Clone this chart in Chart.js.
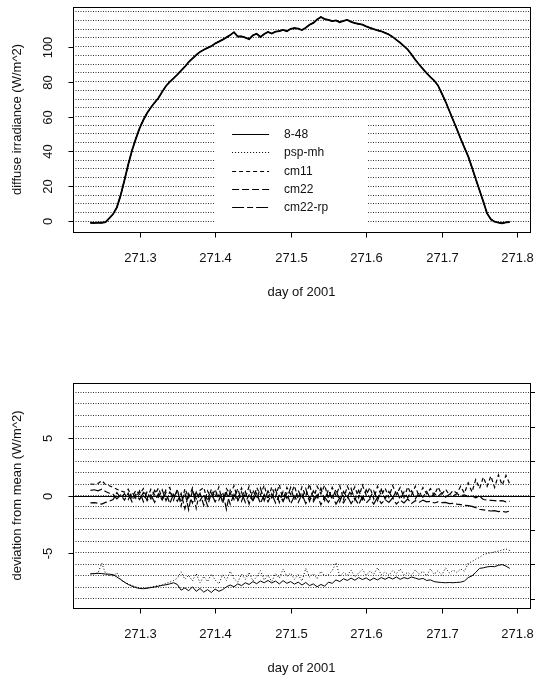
<!DOCTYPE html>
<html>
<head>
<meta charset="utf-8">
<script src="https://cdn.jsdelivr.net/npm/chart.js@4/dist/chart.umd.min.js"></script>
<style>
  html, body { margin: 0; padding: 0; background: #fff; }
  .panel { position: absolute; left: 0; }
</style>
</head>
<body>
<div class="panel" style="top:0"><canvas id="irrChart" width="535" height="338"></canvas></div>
<div class="panel" style="top:338px"><canvas id="devChart" width="535" height="339"></canvas></div>
<script>
// day of 2001 (sampling grid)
const days = [
  271.235,271.240,271.245,271.250,271.255,271.260,271.265,271.270,271.275,271.280,
  271.285,271.290,271.295,271.300,271.305,271.310,271.315,271.320,271.325,271.330,
  271.335,271.340,271.345,271.350,271.355,271.360,271.365,271.370,271.375,271.380,
  271.385,271.390,271.395,271.400,271.405,271.410,271.415,271.420,271.425,271.430,
  271.435,271.440,271.445,271.450,271.455,271.460,271.465,271.470,271.475,271.480,
  271.485,271.490,271.495,271.500,271.505,271.510,271.515,271.520,271.525,271.530,
  271.535,271.540,271.545,271.550,271.555,271.560,271.565,271.570,271.575,271.580,
  271.585,271.590,271.595,271.600,271.605,271.610,271.615,271.620,271.625,271.630,
  271.635,271.640,271.645,271.650,271.655,271.660,271.665,271.670,271.675,271.680,
  271.685,271.690,271.695,271.700,271.705,271.710,271.715,271.720,271.725,271.730,
  271.735,271.740,271.745,271.750,271.755,271.760,271.765,271.770,271.775,271.780,
  271.785,271.790
];

// diffuse irradiance (W/m^2) - the five instruments overlap in the top panel
const irradiance = [
  -0.8,-0.9,-0.7,-0.8,-0.4,1.8,4.2,8.0,15.0,23.5,
  32.5,40.5,47.2,53.2,58.0,62.0,65.2,68.0,70.6,74.2,
  77.5,79.8,81.9,84.0,86.3,88.5,91.2,93.2,95.2,97.0,
  98.2,99.3,100.3,101.8,102.9,104.0,105.3,106.6,108.3,105.8,
  105.9,105.2,104.3,106.5,107.4,105.5,107.2,108.4,107.5,108.6,
  108.9,109.6,108.8,110.2,110.6,110.3,109.5,110.8,112.5,113.6,
  115.5,117.0,115.8,115.3,114.6,115.0,114.0,114.8,115.3,114.2,
  113.5,113.0,112.6,111.6,110.8,110.0,109.3,108.8,107.9,107.0,
  105.6,103.9,102.2,100.3,98.3,95.5,92.5,89.8,87.3,84.8,
  82.6,80.6,77.8,73.2,68.6,63.3,58.0,52.8,47.3,42.2,
  37.2,30.8,24.2,17.8,11.3,4.5,1.2,-0.2,-0.7,-1.1,
  -0.6,-0.4
];

// deviation from mean (W/m^2)
const dev848 = [
  -6.82,-6.80,-6.78,-6.80,-6.85,-6.85,-6.90,-7.10,-7.32,-7.55,
  -7.75,-7.90,-8.02,-8.10,-8.12,-8.08,-8.02,-7.97,-7.90,-7.82,
  -7.78,-7.70,-7.60,-7.75,-8.25,-8.05,-8.30,-7.95,-8.35,-8.10,
  -8.42,-8.20,-8.45,-8.15,-8.35,-8.20,-7.95,-7.80,-7.95,-7.70,
  -7.85,-7.60,-7.75,-7.50,-7.68,-7.45,-7.60,-7.40,-7.62,-7.45,
  -7.70,-7.42,-7.65,-7.50,-7.72,-7.55,-7.80,-7.58,-7.85,-7.70,
  -7.95,-7.75,-7.90,-7.55,-7.65,-7.35,-7.50,-7.25,-7.40,-7.20,
  -7.38,-7.15,-7.32,-7.18,-7.40,-7.20,-7.35,-7.15,-7.30,-7.12,
  -7.28,-7.10,-7.30,-7.15,-7.25,-7.10,-7.20,-7.30,-7.22,-7.40,
  -7.35,-7.50,-7.55,-7.58,-7.60,-7.58,-7.60,-7.57,-7.55,-7.45,
  -7.15,-7.00,-6.70,-6.35,-6.30,-6.22,-6.18,-6.20,-6.08,-6.02,
  -6.15,-6.35
];
const devPspMh = [
  -6.85,-6.82,-6.75,-5.90,-6.80,-6.95,-7.00,-6.75,-7.35,-7.55,
  -7.70,-7.85,-7.95,-8.05,-8.10,-8.05,-7.98,-7.90,-7.85,-7.80,
  -7.65,-7.55,-7.40,-7.20,-6.65,-7.30,-6.95,-7.45,-6.80,-7.60,
  -7.05,-7.50,-6.85,-7.35,-7.70,-6.90,-7.40,-6.60,-7.25,-7.55,
  -6.85,-7.30,-6.70,-7.45,-7.10,-6.55,-7.35,-6.95,-7.50,-6.80,
  -7.20,-6.40,-7.05,-6.75,-7.30,-6.90,-7.45,-6.35,-7.10,-6.80,
  -7.25,-6.60,-7.00,-6.90,-6.55,-5.85,-7.05,-6.70,-6.95,-6.50,
  -7.10,-6.75,-6.45,-6.95,-6.60,-6.85,-6.30,-6.90,-6.65,-6.95,
  -6.55,-6.80,-6.40,-6.90,-6.70,-6.95,-6.50,-6.85,-6.60,-7.00,
  -6.40,-6.85,-6.55,-6.95,-6.30,-6.75,-6.50,-6.70,-6.40,-6.60,
  -5.90,-5.75,-5.55,-5.40,-5.15,-5.05,-5.00,-4.90,-4.85,-4.75,
  -4.65,-4.80
];
const devCm11 = [
  1.00,0.98,1.05,1.30,0.95,0.85,0.70,0.55,0.40,0.30,
  0.55,-0.20,0.45,0.10,0.60,-0.30,0.55,0.05,0.65,-0.25,
  0.50,0.70,-0.40,0.55,-0.90,0.60,-0.20,0.65,-1.10,0.45,
  0.70,-0.50,0.55,-0.15,0.75,-0.70,0.60,0.10,0.85,-0.40,
  0.65,-0.20,0.80,-0.55,0.70,0.05,0.90,-0.35,0.75,-0.10,
  0.95,-0.45,0.70,0.10,0.85,-0.30,0.75,-0.05,1.00,-0.40,
  0.80,0.15,0.90,-0.25,0.70,0.00,0.85,-0.35,0.80,0.10,
  0.75,-0.20,0.90,0.05,0.70,-0.30,0.80,0.00,0.65,-0.15,
  0.85,0.10,0.70,-0.20,0.75,0.05,0.80,-0.10,0.70,0.15,
  0.60,0.00,0.75,0.10,0.55,0.05,0.45,0.20,0.80,0.20,
  1.10,0.30,1.40,0.60,1.60,0.80,1.70,0.70,1.80,0.90,
  1.75,1.00
];
const devCm22 = [
  -0.65,-0.62,-0.68,-0.75,-0.60,-0.50,-0.35,0.25,-0.20,0.15,
  -0.35,0.30,-0.25,0.40,-0.55,0.35,-0.30,0.45,-0.15,0.50,
  -0.45,0.30,-0.20,0.40,-0.60,0.25,-1.25,0.45,-0.30,0.20,
  -0.85,0.40,-0.25,0.55,-0.40,0.30,-1.20,0.45,-0.35,0.60,
  -0.50,0.35,-0.75,0.50,-0.30,0.65,-0.45,0.40,-0.20,0.55,
  -0.60,0.35,-0.25,0.70,-0.40,0.45,-0.30,0.60,-0.50,0.40,
  -0.20,0.65,-0.45,0.50,-0.30,0.55,-0.55,0.35,-0.25,0.60,
  -0.40,0.45,-0.35,0.50,-0.20,0.40,-0.45,0.55,-0.30,0.35,
  -0.25,0.45,-0.35,0.30,-0.20,0.40,-0.30,0.25,-0.15,0.35,
  -0.25,0.20,-0.10,0.25,-0.15,0.10,-0.05,0.15,0.00,0.05,
  -0.10,-0.05,-0.20,-0.05,-0.35,-0.40,-0.42,-0.45,-0.48,-0.45,
  -0.55,-0.50
];
const devCm22rp = [
  0.45,0.50,0.40,0.55,0.35,0.20,0.10,-0.30,0.05,-0.40,
  0.20,-0.55,0.10,-0.35,0.25,-0.45,0.05,-0.60,0.15,-0.40,
  0.25,-0.70,0.10,-0.50,0.20,-1.15,0.15,-0.65,0.30,-0.45,
  0.10,-0.90,0.20,-0.55,0.05,-0.40,0.25,-0.75,0.10,-0.50,
  0.30,-0.60,0.05,-0.45,0.20,-0.70,0.10,-0.55,0.15,-0.65,
  0.00,-0.50,0.20,-0.75,-0.05,-0.60,0.10,-0.70,-0.10,-0.55,
  0.05,-0.80,-0.15,-0.60,0.00,-0.75,-0.20,-0.65,-0.05,-0.70,
  -0.25,-0.80,-0.10,-0.65,-0.30,-0.75,-0.15,-0.70,-0.35,-0.60,
  -0.20,-0.75,-0.40,-0.65,-0.30,-0.70,-0.45,-0.60,-0.40,-0.55,
  -0.50,-0.65,-0.55,-0.62,-0.60,-0.70,-0.68,-0.75,-0.80,-0.85,
  -0.88,-0.95,-1.05,-1.20,-1.25,-1.30,-1.35,-1.32,-1.40,-1.38,
  -1.45,-1.35
];

const instruments = ['8-48', 'psp-mh', 'cm11', 'cm22', 'cm22-rp'];
const deviations = [dev848, devPspMh, devCm11, devCm22, devCm22rp];

// tick labels
const xTicks = [271.3, 271.4, 271.5, 271.6, 271.7, 271.8];
const irrTicks = [0, 20, 40, 60, 80, 100];
const devTicks = [-5, 0, 5];
const devRightTicks = [-9, -6, -3, 0, 3, 6, 9];

// line types like R's lty 1..6
const DASHES = [[], [1, 2], [4, 3], [7, 3], [12, 3, 6, 3]];
const WIDTHS = [1.8, 1, 1, 1, 1];
const DEV_WIDTHS = [1, 1, 1.2, 1.2, 1.2];
const AXIS_FONT = '13px "Liberation Sans", Arial, Helvetica, sans-serif';
const LEGEND_FONT = '12px "Liberation Sans", Arial, Helvetica, sans-serif';
const INK = '#111';

function toPoints(values) {
    return days.map((d, i) => ({ x: d, y: values[i] }));
}

function hline(ctx, x1, x2, y) {
    ctx.beginPath();
    ctx.moveTo(x1, y);
    ctx.lineTo(x2, y);
    ctx.stroke();
}

// R-like frame: box, outward ticks, rotated y labels, titles, optional legend
function rFrame(opts) {
    return {
        id: 'rFrame',
        afterDatasetsDraw(chart) {
            const { ctx, chartArea: a, scales: { x, y } } = chart;
            const L = Math.round(a.left) + 0.5, R = Math.round(a.right) + 0.5;
            const T = Math.round(a.top) + 0.5, B = Math.round(a.bottom) + 0.5;
            ctx.save();
            ctx.strokeStyle = '#000';
            ctx.lineWidth = 1;
            ctx.setLineDash([]);

            if (opts.legend) {
                const lx = x.getPixelForValue(opts.legend.x);
                const ly = y.getPixelForValue(opts.legend.y);
                ctx.fillStyle = '#fff';
                ctx.fillRect(lx, ly, 152, 105);
                ctx.font = LEGEND_FONT;
                ctx.textBaseline = 'middle';
                ctx.textAlign = 'left';
                chart.data.datasets.forEach((ds, i) => {
                    const ry = Math.round(ly + 14 + i * 18.3) + 0.5;
                    ctx.strokeStyle = '#000';
                    ctx.lineWidth = 1;
                    ctx.setLineDash(ds.borderDash);
                    hline(ctx, lx + 17, lx + 54, ry);
                    ctx.setLineDash([]);
                    ctx.fillStyle = INK;
                    ctx.fillText(ds.label, lx + 69, ry);
                });
                ctx.strokeStyle = '#000';
            }

            if (opts.zeroLine) {
                hline(ctx, L, R + 5, Math.round(y.getPixelForValue(0)) + 0.5);
            }

            ctx.strokeRect(L, T, R - L, B - T);

            ctx.font = AXIS_FONT;
            ctx.fillStyle = INK;

            // left axis
            opts.yTicks.forEach(v => {
                const py = Math.round(y.getPixelForValue(v)) + 0.5;
                hline(ctx, L - 5, L, py);
                ctx.save();
                ctx.translate(48, py);
                ctx.rotate(-Math.PI / 2);
                ctx.textAlign = 'center';
                ctx.textBaseline = 'middle';
                ctx.fillText(String(v), 0, 0);
                ctx.restore();
            });

            // right axis ticks (labels fall outside the page)
            (opts.rightTicks || []).forEach(v => {
                const py = Math.round(y.getPixelForValue(v)) + 0.5;
                hline(ctx, R, R + 5, py);
            });

            // bottom axis
            ctx.textAlign = 'center';
            ctx.textBaseline = 'middle';
            xTicks.forEach(v => {
                const px = Math.round(x.getPixelForValue(v)) + 0.5;
                ctx.beginPath();
                ctx.moveTo(px, B);
                ctx.lineTo(px, B + 5);
                ctx.stroke();
                ctx.fillText(v.toFixed(1), px, B + 26);
            });

            ctx.fillText('day of 2001', (a.left + a.right) / 2, B + 60);

            ctx.save();
            ctx.translate(17, (a.top + a.bottom) / 2);
            ctx.rotate(-Math.PI / 2);
            ctx.fillText(opts.yTitle, 0, 0);
            ctx.restore();

            ctx.restore();
        }
    };
}

function baseOptions(yMin, yMax, step, gridMin, gridMax, padding) {
    return {
        responsive: false,
        animation: false,
        layout: { padding: padding },
        elements: { point: { radius: 0 }, line: { tension: 0, borderCapStyle: 'butt' } },
        plugins: { legend: { display: false }, tooltip: { enabled: false } },
        scales: {
            x: {
                type: 'linear',
                display: false,
                min: 271.2119,
                max: 271.8168
            },
            y: {
                type: 'linear',
                min: yMin,
                max: yMax,
                afterFit: s => { s.width = 0; },
                ticks: { display: false, stepSize: step, includeBounds: false },
                grid: {
                    drawTicks: false,
                    lineWidth: 1,
                    color: c => (c.tick && c.tick.value >= gridMin && c.tick.value <= gridMax) ? '#333' : 'rgba(0,0,0,0)'
                },
                border: { display: false, dash: [1, 1.5] }
            }
        }
    };
}

document.addEventListener('DOMContentLoaded', function() {
    // diffuse irradiance
    new Chart(document.getElementById('irrChart').getContext('2d'), {
        type: 'line',
        data: {
            datasets: instruments.map((name, i) => ({
                label: name,
                data: toPoints(irradiance),
                borderColor: '#000',
                borderWidth: WIDTHS[i],
                borderDash: DASHES[i],
                fill: false
            }))
        },
        options: baseOptions(-6.1, 122.7, 5, 0, 120, { left: 73, right: 5, top: 7, bottom: 106 }),
        plugins: [rFrame({
            yTicks: irrTicks,
            yTitle: 'diffuse irradiance (W/m^2)',
            legend: { x: 271.4, y: 58 }
        })]
    });

    // deviation from mean
    new Chart(document.getElementById('devChart').getContext('2d'), {
        type: 'line',
        data: {
            datasets: instruments.map((name, i) => ({
                label: name,
                data: toPoints(deviations[i]),
                borderColor: '#000',
                borderWidth: DEV_WIDTHS[i],
                borderDash: DASHES[i],
                fill: false
            }))
        },
        options: baseOptions(-9.8, 9.8, 1, -9, 9, { left: 73, right: 5, top: 45, bottom: 69 }),
        plugins: [rFrame({
            yTicks: devTicks,
            rightTicks: devRightTicks,
            yTitle: 'deviation from mean (W/m^2)',
            zeroLine: true
        })]
    });
});
</script>
</body>
</html>
